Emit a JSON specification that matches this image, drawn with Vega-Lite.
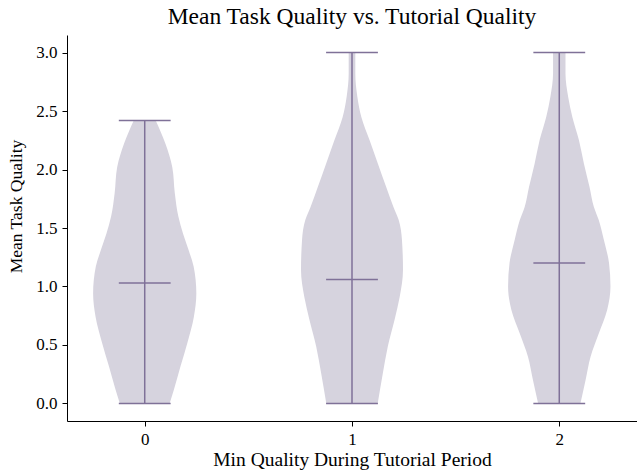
{
  "$schema": "https://vega.github.io/schema/vega-lite/v6.json",
  "width": 570,
  "height": 386,
  "autosize": {"type": "none"},
  "padding": {"left": 67, "top": 35, "right": 0, "bottom": 51},
  "background": "white",
  "title": {"text": "Mean Task Quality vs. Tutorial Quality", "font": "Liberation Serif", "fontSize": 23.5, "fontWeight": "normal", "color": "#000000", "offset": 7},
  "config": {
    "view": {"stroke": null},
    "font": "Liberation Serif",
    "axis": {"grid": false, "domainColor": "#000000", "tickColor": "#000000", "labelColor": "#000000", "titleColor": "#000000", "labelFont": "Liberation Serif", "titleFont": "Liberation Serif", "titleFontWeight": "normal", "tickSize": 5, "labelPadding": 5, "domainWidth": 1, "tickWidth": 1}
  },
  "datasets": {
    "violin": [
      {"g": 0, "v": 0.0, "w": 0.12},
      {"g": 0, "v": 0.12, "w": 0.141},
      {"g": 0, "v": 0.32, "w": 0.173},
      {"g": 0, "v": 0.52, "w": 0.206},
      {"g": 0, "v": 0.74, "w": 0.237},
      {"g": 0, "v": 0.94, "w": 0.249},
      {"g": 0, "v": 1.17, "w": 0.236},
      {"g": 0, "v": 1.31, "w": 0.212},
      {"g": 0, "v": 1.45, "w": 0.185},
      {"g": 0, "v": 1.6, "w": 0.162},
      {"g": 0, "v": 1.8, "w": 0.145},
      {"g": 0, "v": 2.02, "w": 0.133},
      {"g": 0, "v": 2.22, "w": 0.1},
      {"g": 0, "v": 2.42, "w": 0.053},
      {"g": 1, "v": 0.0, "w": 0.124},
      {"g": 1, "v": 0.26, "w": 0.149},
      {"g": 1, "v": 0.49, "w": 0.173},
      {"g": 1, "v": 0.72, "w": 0.206},
      {"g": 1, "v": 0.91, "w": 0.23},
      {"g": 1, "v": 1.14, "w": 0.246},
      {"g": 1, "v": 1.4, "w": 0.241},
      {"g": 1, "v": 1.57, "w": 0.225},
      {"g": 1, "v": 1.68, "w": 0.2},
      {"g": 1, "v": 1.85, "w": 0.165},
      {"g": 1, "v": 2.05, "w": 0.125},
      {"g": 1, "v": 2.25, "w": 0.085},
      {"g": 1, "v": 2.45, "w": 0.045},
      {"g": 1, "v": 2.62, "w": 0.026},
      {"g": 1, "v": 2.82, "w": 0.016},
      {"g": 1, "v": 3.0, "w": 0.016},
      {"g": 2, "v": 0.0, "w": 0.102},
      {"g": 2, "v": 0.2, "w": 0.127},
      {"g": 2, "v": 0.4, "w": 0.151},
      {"g": 2, "v": 0.6, "w": 0.191},
      {"g": 2, "v": 0.8, "w": 0.231},
      {"g": 2, "v": 1.0, "w": 0.247},
      {"g": 2, "v": 1.2, "w": 0.24},
      {"g": 2, "v": 1.4, "w": 0.215},
      {"g": 2, "v": 1.57, "w": 0.19},
      {"g": 2, "v": 1.68, "w": 0.167},
      {"g": 2, "v": 1.85, "w": 0.146},
      {"g": 2, "v": 2.05, "w": 0.119},
      {"g": 2, "v": 2.25, "w": 0.095},
      {"g": 2, "v": 2.45, "w": 0.063},
      {"g": 2, "v": 2.62, "w": 0.043},
      {"g": 2, "v": 2.82, "w": 0.03},
      {"g": 2, "v": 3.0, "w": 0.03}
    ],
    "stats": [
      {"g": 0, "min": 0.0, "max": 2.42, "mean": 1.03},
      {"g": 1, "min": 0.0, "max": 3.0, "mean": 1.06},
      {"g": 2, "min": 0.0, "max": 3.0, "mean": 1.2}
    ]
  },
  "layer": [
    {
      "data": {"name": "violin"},
      "transform": [
        {"calculate": "datum.g - datum.w", "as": "lo"},
        {"calculate": "datum.g + datum.w", "as": "hi"}
      ],
      "mark": {"type": "area", "orient": "horizontal", "interpolate": "monotone", "color": "#d6d3de", "opacity": 1},
      "encoding": {
        "detail": {"field": "g", "type": "nominal"},
        "y": {"field": "v", "type": "quantitative", "scale": {"domain": [-0.15, 3.15], "nice": false, "zero": false}, "axis": {"values": [0, 0.5, 1, 1.5, 2, 2.5, 3], "format": ".1f", "labelFontSize": 17, "title": "Mean Task Quality", "titleFontSize": 17.5, "titlePadding": 10, "titleY": 171}},
        "x": {"field": "lo", "type": "quantitative", "scale": {"domain": [-0.375, 2.375], "nice": false, "zero": false}, "axis": {"values": [0, 1, 2], "format": "d", "labelFontSize": 17, "title": "Min Quality During Tutorial Period", "titleFontSize": 19.5, "titlePadding": 3}},
        "x2": {"field": "hi"}
      }
    },
    {
      "data": {"name": "stats"},
      "mark": {"type": "rule", "color": "#7f7198", "strokeWidth": 1.5},
      "encoding": {
        "x": {"field": "g", "type": "quantitative"},
        "y": {"field": "min", "type": "quantitative"},
        "y2": {"field": "max"}
      }
    },
    {
      "data": {"name": "stats"},
      "transform": [
        {"fold": ["min", "max", "mean"], "as": ["stat", "val"]},
        {"calculate": "datum.g - 0.125", "as": "cl"},
        {"calculate": "datum.g + 0.125", "as": "cr"}
      ],
      "mark": {"type": "rule", "color": "#7f7198", "strokeWidth": 1.5},
      "encoding": {
        "x": {"field": "cl", "type": "quantitative"},
        "x2": {"field": "cr"},
        "y": {"field": "val", "type": "quantitative"}
      }
    }
  ]
}
